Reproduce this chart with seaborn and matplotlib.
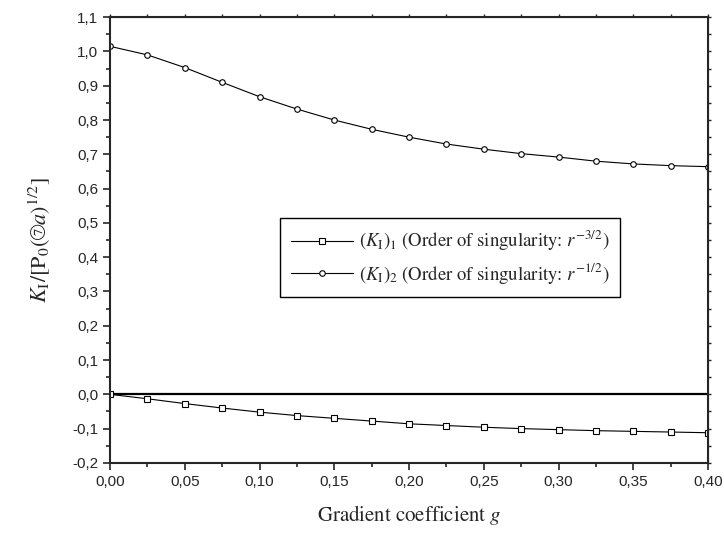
import numpy as np
import pandas as pd
import matplotlib
matplotlib.use('Agg')
import matplotlib.pyplot as plt
import seaborn as sns
from matplotlib.ticker import MultipleLocator, FuncFormatter

# gradient coefficient g
g = [0.0, 0.025, 0.05, 0.075, 0.1, 0.125, 0.15, 0.175, 0.2, 0.225,
     0.25, 0.275, 0.3, 0.325, 0.35, 0.375, 0.4]

# (K_I)_1, order of singularity r^-3/2
k1 = [0.0, -0.013, -0.027, -0.040, -0.052, -0.062, -0.070, -0.078, -0.086,
      -0.091, -0.096, -0.100, -0.103, -0.106, -0.108, -0.110, -0.112]

# (K_I)_2, order of singularity r^-1/2
k2 = [1.015, 0.990, 0.953, 0.910, 0.868, 0.832, 0.800, 0.773, 0.750,
      0.730, 0.715, 0.702, 0.692, 0.680, 0.672, 0.667, 0.664]

labels = [r'$(K_\mathrm{I})_1$ (Order of singularity: $r^{-3/2}$)',
          r'$(K_\mathrm{I})_2$ (Order of singularity: $r^{-1/2}$)']

sns.set_style('ticks')
plt.rcParams['font.family'] = ['Liberation Sans', 'DejaVu Sans']
plt.rcParams['mathtext.fontset'] = 'stix'

df = pd.DataFrame({'g': g, 'k1': k1, 'k2': k2})

fig = plt.figure(figsize=(7.24, 5.37), dpi=100)
ax = fig.add_axes([0.152, 0.138, 0.826, 0.830])

sns.lineplot(data=df, x='g', y='k1', ax=ax, color='black', lw=0.8,
             marker='s', markersize=4, markerfacecolor='white',
             markeredgecolor='black', markeredgewidth=0.8, label=labels[0])
sns.lineplot(data=df, x='g', y='k2', ax=ax, color='black', lw=0.8,
             marker='o', markersize=4, markerfacecolor='white',
             markeredgecolor='black', markeredgewidth=0.8, label=labels[1])

ax.axhline(0, color='black', lw=1.6, zorder=1)

ax.set_xlim(0, 0.4)
ax.set_ylim(-0.2, 1.1)
ax.xaxis.set_major_locator(MultipleLocator(0.05))
ax.xaxis.set_minor_locator(MultipleLocator(0.025))
ax.yaxis.set_major_locator(MultipleLocator(0.1))
ax.yaxis.set_minor_locator(MultipleLocator(0.05))
ax.xaxis.set_major_formatter(FuncFormatter(lambda v, p: f'{v:.2f}'.replace('.', ',')))
ax.yaxis.set_major_formatter(FuncFormatter(lambda v, p: f'{v:.1f}'.replace('.', ',').replace('-0,0', '0,0')))

ax.tick_params(which='major', direction='out', length=5, width=1.2, labelsize=11)
ax.tick_params(which='minor', direction='out', length=3, width=1.2)
ax.tick_params(axis='x', which='both', top=False)
ax.tick_params(axis='y', which='both', right=False)
for s in ax.spines.values():
    s.set_linewidth(1.5)
    s.set_visible(True)

# small outward ticks on the top and right spines
ax2 = ax.secondary_xaxis('top')
ax2.xaxis.set_major_locator(MultipleLocator(0.025))
ax2.tick_params(direction='out', length=2, width=1)
ax2.set_xticklabels([])
ax3 = ax.secondary_yaxis('right')
ax3.yaxis.set_major_locator(MultipleLocator(0.05))
ax3.tick_params(direction='out', length=2, width=1)
ax3.set_yticklabels([])

ax.set_xlabel(r'Gradient coefficient $g$', family='STIXGeneral', fontsize=15, labelpad=10)
ax.set_ylabel(r'$K_\mathrm{I}/[\mathrm{P}_0(⑦a)^{1/2}]$', family='STIXGeneral', fontsize=16, labelpad=14)

leg = ax.legend(loc='upper left', bbox_to_anchor=(0.284, 0.55), frameon=True,
                fancybox=False, edgecolor='black', framealpha=1, borderaxespad=0,
                prop={'family': 'STIXGeneral', 'size': 13.5}, handlelength=3.3,
                handletextpad=0.3, borderpad=0.6, labelspacing=0.4)
leg.get_frame().set_linewidth(1.0)

fig.savefig('out.png', dpi=100)
